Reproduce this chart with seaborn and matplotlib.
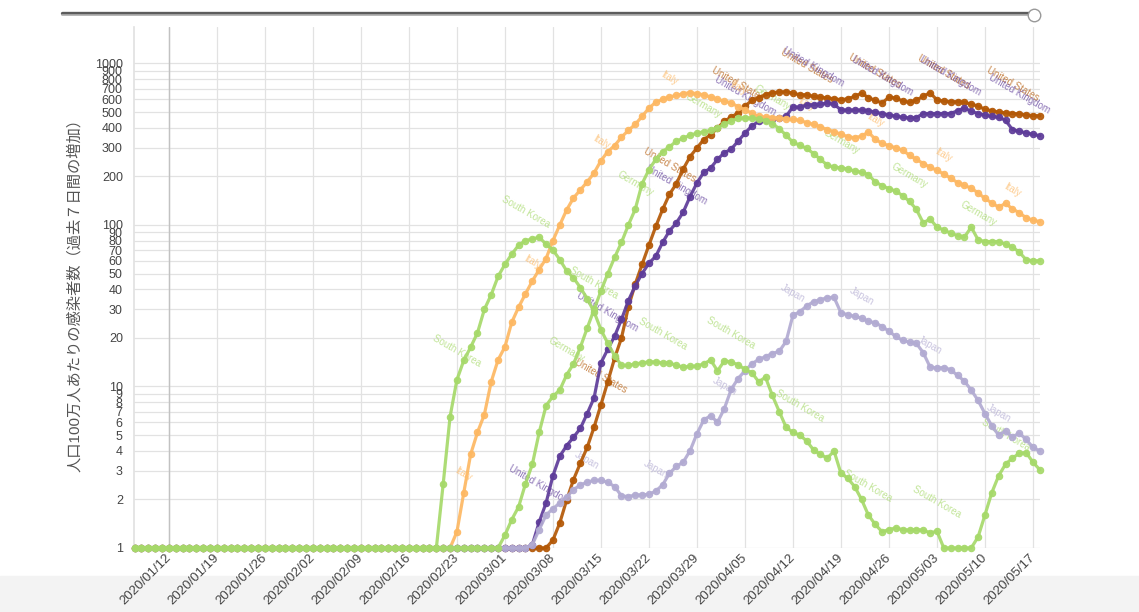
import numpy as np
import pandas as pd
import seaborn as sns
import matplotlib.pyplot as plt
import matplotlib.dates as mdates
from matplotlib.lines import Line2D
from matplotlib.patches import Rectangle
from matplotlib.ticker import FixedLocator, FixedFormatter, NullLocator

# daily values, 2020/01/07 .. 2020/05/18 (133 days), per million, 7-day increase
dates = pd.date_range("2020-01-07", "2020-05-18", freq="D")

south_korea = [1] * 45 + [
    2.5, 6.5, 11, 14.5, 17.5, 21.5, 30, 37, 48, 57,
    66, 75, 80, 82, 84, 76, 70, 61, 52, 47,
    41, 35, 29, 22.5, 18.5, 15.5, 13.5, 13.5, 13.8, 14,
    14.2, 14.2, 14, 14, 13.5, 13.2, 13.3, 13.4, 13.8, 14.6,
    12.5, 14.4, 14.2, 13.6, 12.8, 12.2, 10.7, 11.4, 8.8, 7,
    5.6, 5.2, 5.0, 4.6, 4.05, 3.8, 3.6, 3.98, 2.9, 2.7,
    2.4, 2.0, 1.6, 1.4, 1.26, 1.3, 1.33, 1.3, 1.29, 1.3,
    1.29, 1.24, 1.27, 1.0, 1.0, 1.0, 1.0, 1.0, 1.17, 1.6,
    2.2, 2.8, 3.3, 3.6, 3.85, 3.9, 3.4, 3.05]

italy = [1] * 47 + [
    1.26, 2.2, 3.8,
    5.2, 6.7, 10.7, 14.6, 17.6, 25, 31, 37.5, 45, 53,
    62, 80, 100, 124, 147, 165, 185, 210, 250, 285,
    310, 350, 385, 420, 470, 530, 575, 600, 620, 635,
    650, 660, 650, 640, 620, 600, 585, 570, 540, 518,
    492, 470, 465, 462, 460, 455, 450, 445, 430, 420,
    405, 390, 378, 365, 352, 347, 355, 376, 340, 320,
    310, 300, 291, 270, 255, 240, 228, 218, 207, 195,
    183, 176, 169, 158, 146, 137, 129, 136, 126, 119,
    111, 107, 105]

germany = [1] * 54 + [
    1.2, 1.5, 1.8, 2.5, 3.3, 5.2,
    7.6, 8.7, 9.5, 11.8, 13.8, 17.5, 23, 30, 39, 50,
    63, 78, 100, 125, 180, 220, 255, 285, 305, 330,
    345, 360, 370, 378, 385, 400, 420, 440, 458, 462,
    460, 452, 442, 425, 395, 360, 325, 312, 298, 277,
    255, 235, 228, 226, 222, 216, 212, 205, 185, 175,
    168, 162, 152, 140, 125, 103, 109, 97, 93, 89,
    86, 84, 97, 81, 79, 79, 79, 76, 73, 68,
    61, 60, 60]

united_kingdom = [1] * 58 + [
    1.05, 1.45,
    1.9, 2.8, 3.7, 4.3, 4.85, 5.5, 6.8, 8.5, 14, 17,
    20.5, 26, 34, 42, 50, 58, 64, 78, 92, 103,
    120, 150, 182, 212, 225, 255, 280, 295, 330, 370,
    410, 438, 445, 450, 460, 470, 540, 535, 555, 555,
    560, 570, 560, 515, 515, 515, 515, 510, 500, 490,
    480, 472, 465, 460, 462, 490, 490, 490, 490, 490,
    510, 530, 505, 490, 480, 470, 465, 445, 390, 380,
    372, 364, 357]

united_states = [1] * 61 + [
    1.12, 1.43, 1.98, 2.65, 3.35, 4.2, 5.6, 7.7, 10.7,
    15, 20, 31, 43, 57, 75, 98, 125, 155, 180,
    222, 265, 300, 338, 362, 398, 440, 465, 495, 545,
    590, 615, 640, 660, 665, 670, 655, 640, 640, 625,
    618, 612, 605, 596, 605, 625, 655, 615, 590, 570,
    618, 612, 585, 575, 594, 625, 660, 594, 585, 580,
    580, 575, 560, 545, 520, 510, 500, 495, 490, 487,
    480, 476, 474]

japan = [1] * 58 + [
    1.05, 1.3,
    1.6, 1.75, 1.9, 2.07, 2.3, 2.45, 2.56, 2.62, 2.62, 2.55,
    2.4, 2.1, 2.08, 2.13, 2.13, 2.15, 2.25, 2.46, 2.9, 3.2,
    3.4, 4.0, 5.1, 6.2, 6.6, 6.0, 7.3, 9.6, 11.2, 12.5,
    13.8, 14.7, 15.3, 16.0, 16.5, 19, 27.6, 29, 31.5, 33.5,
    34.4, 35.5, 35.6, 28.6, 27.8, 27.2, 26.5, 25.3, 24.8, 23.5,
    22, 20.4, 19.3, 18.8, 18.5, 16.2, 13.2, 13, 13.1, 12.7,
    11.7, 10.8, 9.5, 8.2, 6.8, 5.7, 5.0, 5.3, 4.85, 5.15,
    4.7, 4.2, 3.98]

series = {
    "United States": united_states,
    "United Kingdom": united_kingdom,
    "Italy": italy,
    "Japan": japan,
    "South Korea": south_korea,
    "Germany": germany,
}
colors = {
    "United States": "#b35806",
    "United Kingdom": "#5e3c99",
    "Italy": "#fdb863",
    "Japan": "#b2abd2",
    "South Korea": "#a6d96a",
    "Germany": "#a6d96a",
}
# day index (from 2020/01/07) where each series carries its name
label_days = {
    "United States": [68, 78, 88, 98, 108, 118, 128],
    "United Kingdom": [59, 69, 79, 89, 99, 109, 119, 129],
    "Italy": [48, 58, 68, 78, 88, 98, 108, 118, 128],
    "Japan": [66, 76, 86, 96, 106, 116, 126],
    "South Korea": [47, 57, 67, 77, 87, 97, 107, 117, 127],
    "Germany": [63, 73, 83, 93, 103, 113, 123],
}
label_lift = {"United States": 21, "United Kingdom": 27, "Italy": 13.5,
              "Japan": 16, "South Korea": 21, "Germany": 18.5}

y_ticks = [1, 2, 3, 4, 5, 6, 7, 8, 9, 10, 20, 30, 40, 50, 60, 70, 80, 90,
           100, 200, 300, 400, 500, 600, 700, 800, 900, 1000]
x_ticks = pd.date_range("2020-01-12", "2020-05-17", freq="7D")
ylabel = "人口100万人あたりの感染者数（過去７日間の増加）"

df = pd.concat([pd.DataFrame({"date": dates, "value": v, "country": k})
                for k, v in series.items()], ignore_index=True)

sns.set_theme(style="white")
plt.rcParams["font.family"] = ["Liberation Sans", "Noto Sans CJK JP", "DejaVu Sans"]

fig = plt.figure(figsize=(11.39, 6.12), dpi=100)
fig.add_artist(Rectangle((0, 0), 1, 36 / 612, transform=fig.transFigure,
                         color="#f3f3f3", zorder=-5))
ax = fig.add_axes([0.1176, 0.1046, 0.7959, 0.8513])
ax.set_yscale("log")

sns.lineplot(data=df, x="date", y="value", hue="country",
             hue_order=list(series), palette=colors, marker="o",
             markersize=4.6, linewidth=2.3, alpha=0.92, errorbar=None,
             legend=False, ax=ax, clip_on=False, zorder=3)
for line in ax.lines:
    line.set_markeredgecolor(line.get_color())
    line.set_markeredgewidth(0.8)

for name, days in label_days.items():
    vals = series[name]
    for d in days:
        t = ax.annotate(name, xy=(mdates.date2num(dates[d]), vals[d]),
                        xytext=(0, label_lift[name]), textcoords="offset points",
                        ha="center", va="center", rotation=-30, fontsize=7,
                        color=colors[name], alpha=0.7, zorder=2,
                        annotation_clip=False)
        t.set_clip_on(True)

ax.set_xlim(mdates.date2num(dates[0]) - 0.1, mdates.date2num(dates[-1]) + 0.1)
ax.set_ylim(1, 10 ** (521 / 161.5))

ax.yaxis.set_major_locator(FixedLocator(y_ticks))
ax.yaxis.set_major_formatter(FixedFormatter([str(v) for v in y_ticks]))
ax.yaxis.set_minor_locator(NullLocator())
ax.set_xticks(mdates.date2num(x_ticks))
ax.set_xticklabels([d.strftime("%Y/%m/%d") for d in x_ticks], rotation=45,
                   ha="right", va="center", rotation_mode="anchor")
ax.tick_params(axis="y", length=0, pad=8, labelsize=9, labelcolor="#444444")
ax.tick_params(axis="x", length=0, pad=6, labelsize=9.5, labelcolor="#444444")

ax.grid(True, color="#e2e2e2", lw=0.9)
ax.axvline(mdates.date2num(pd.Timestamp("2020-01-12")), color="#c2c2c2", lw=1, zorder=1)
for s in ["top", "right", "bottom"]:
    ax.spines[s].set_visible(False)
ax.spines["left"].set_color("#e2e2e2")
ax.set_xlabel("")
ax.set_ylabel("")
fig.text(0.066, 0.5245, ylabel, rotation=90, ha="center", va="center",
         fontsize=11, color="#555555")

# slider on top
fig.add_artist(Line2D([62 / 1139, 1030 / 1139], [1 - 12.5 / 612] * 2,
                      transform=fig.transFigure, color="#5c5c5c", lw=2.4))
fig.add_artist(Line2D([62 / 1139, 1030 / 1139], [1 - 15 / 612] * 2,
                      transform=fig.transFigure, color="#b0b0b0", lw=1.2))
fig.add_artist(Line2D([1034 / 1139], [1 - 15 / 612], transform=fig.transFigure,
                      marker="o", markersize=9, markerfacecolor="white",
                      markeredgecolor="#999999", markeredgewidth=1))

fig.savefig("out.png", dpi=100)
